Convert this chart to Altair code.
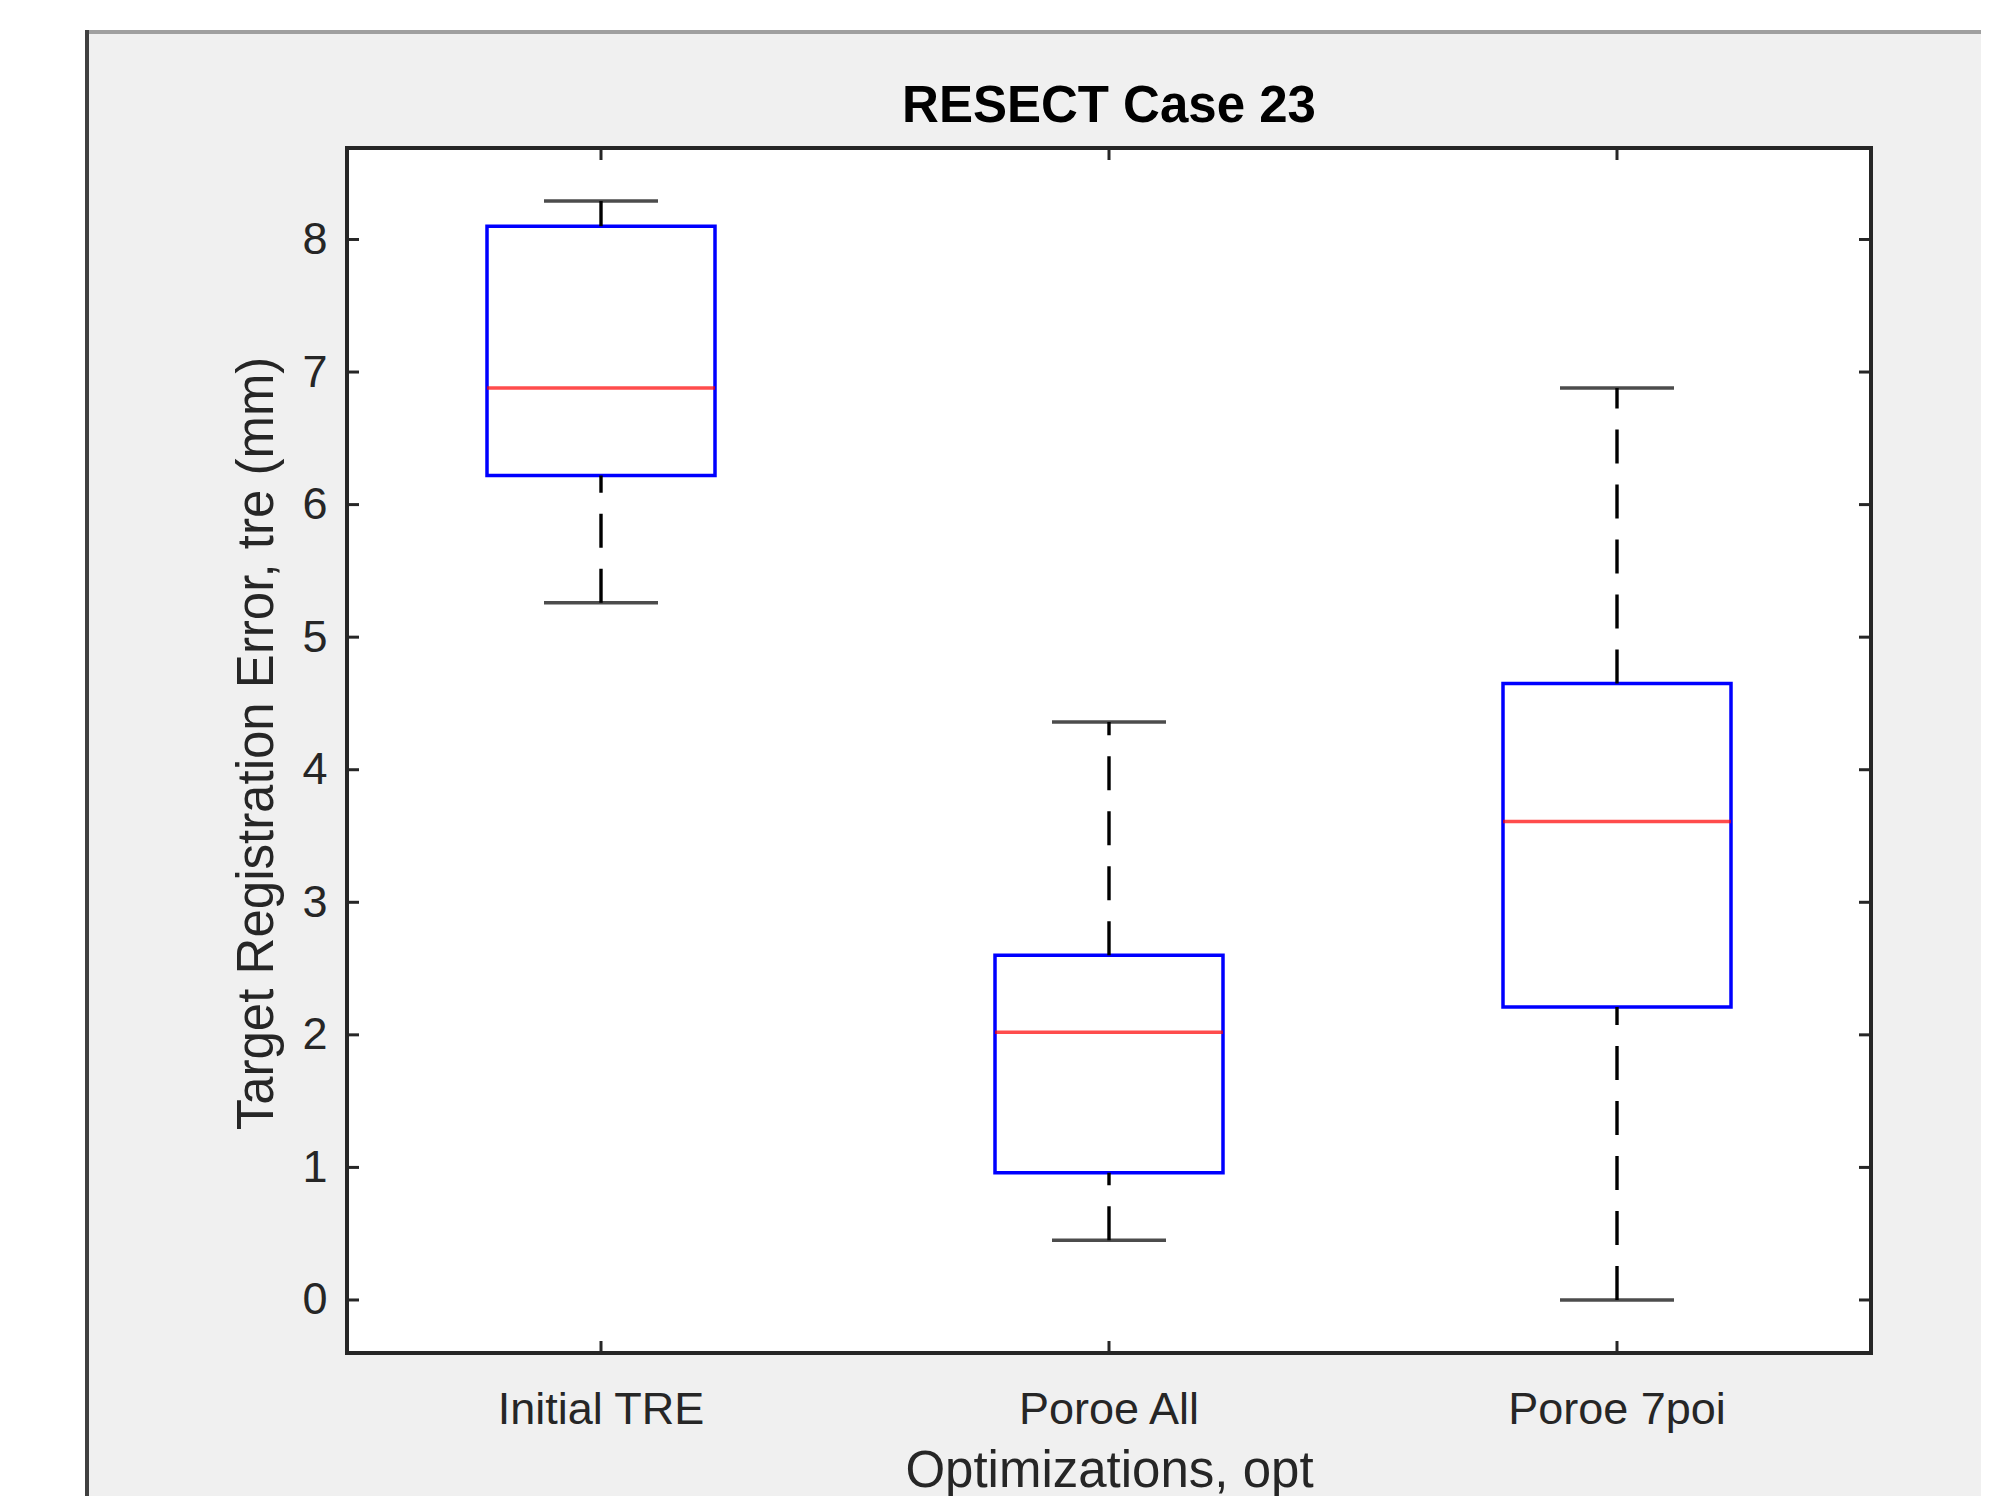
import altair as alt
import pandas as pd

# ---- data ----
CATEGORIES = ["Initial TRE", "Poroe All", "Poroe 7poi"]
WHISKER_LOW = [5.26, 0.45, 0.0]
Q1 = [6.22, 0.96, 2.21]
MEDIAN = [6.88, 2.02, 3.61]
Q3 = [8.10, 2.60, 4.65]
WHISKER_HIGH = [8.29, 4.36, 6.88]
Y_TICKS = [0, 1, 2, 3, 4, 5, 6, 7, 8]
TITLE = "RESECT Case 23"
X_TITLE = "Optimizations, opt"
Y_TITLE = "Target Registration Error, tre (mm)"

# ---- layout / style ----
W, H = 1524, 1205
PAD_L, PAD_T, PAD_R, PAD_B = 339, 140, 110, 143
FONT = "Liberation Sans"
AX = "#262626"
TICK_LEN = 12
LW = 3.4

df = pd.DataFrame({"opt": CATEGORIES, "lo": WHISKER_LOW, "q1": Q1,
                   "med": MEDIAN, "q3": Q3, "hi": WHISKER_HIGH})
ticks_df = pd.DataFrame({"v": Y_TICKS})
cats_df = pd.DataFrame({"opt": CATEGORIES})
one = pd.DataFrame({"t": [TITLE]})

xs = alt.Scale(domain=CATEGORIES, paddingInner=0, paddingOuter=0)
ys = alt.Scale(domain=[-0.40, 8.69], nice=False, zero=False)

x_axis = alt.Axis(
    title=X_TITLE, labelFont=FONT, labelFontSize=45, labelColor=AX,
    labelPadding=34, labelLimit=600, labelAngle=0, ticks=False, tickSize=0,
    domain=False, grid=False, titleFont=FONT, titleFontSize=51,
    titleFontWeight="normal", titleColor=AX, titleX=W / 2, titleY=133,
    titleBaseline="alphabetic", titleAlign="center")
y_axis = alt.Axis(
    title=Y_TITLE, values=Y_TICKS, format="d", labelFont=FONT,
    labelFontSize=45, labelColor=AX, labelPadding=20, labelFlush=False,
    labelOverlap=False, ticks=False, tickSize=0, domain=False, grid=False,
    titleFont=FONT, titleFontSize=51, titleFontWeight="normal",
    titleColor=AX, titleX=-75, titleY=595, titleAngle=270,
    titleBaseline="alphabetic", titleAlign="center")


def X():
    return alt.X("opt:N", scale=xs, axis=x_axis, sort=CATEGORIES, title=X_TITLE)


def Y(field):
    return alt.Y(field, scale=ys, axis=y_axis, title=Y_TITLE)


# figure chrome (outside plot area)
white_top = alt.Chart(one).mark_rect(color="white").encode(
    x=alt.value(-PAD_L), x2=alt.value(W + PAD_R),
    y=alt.value(-PAD_T), y2=alt.value(-118))
white_left = alt.Chart(one).mark_rect(color="white").encode(
    x=alt.value(-PAD_L), x2=alt.value(-262),
    y=alt.value(-PAD_T), y2=alt.value(H + PAD_B))
top_line = alt.Chart(one).mark_rect(color="#a0a0a0").encode(
    x=alt.value(-262), x2=alt.value(W + PAD_R),
    y=alt.value(-118), y2=alt.value(-114))
left_line = alt.Chart(one).mark_rect(color="#404040").encode(
    x=alt.value(-262), x2=alt.value(-258),
    y=alt.value(-118), y2=alt.value(H + PAD_B))

base = alt.Chart(df)
boxes = base.mark_bar(width=228, fill="white", stroke="#0000ff",
                      strokeWidth=3.5).encode(x=X(), y=Y("q1:Q"), y2="q3:Q")
whisk_lo = base.mark_rule(color="black", strokeWidth=LW, strokeDash=[34, 21]).encode(
    x=X(), y=Y("lo:Q"), y2="q1:Q")
whisk_hi = base.mark_rule(color="black", strokeWidth=LW, strokeDash=[34, 21]).encode(
    x=X(), y=Y("q3:Q"), y2="hi:Q")
cap_lo = base.mark_tick(color="black", size=114, thickness=LW).encode(
    x=X(), y=Y("lo:Q"))
cap_hi = base.mark_tick(color="black", size=114, thickness=LW).encode(
    x=X(), y=Y("hi:Q"))
medians = base.mark_tick(color="#ff0000", size=228, thickness=3.5).encode(
    x=X(), y=Y("med:Q"))

# inward ticks on all four sides
tl = alt.Chart(ticks_df).mark_rule(color=AX, strokeWidth=3).encode(
    y=Y("v:Q"), x=alt.value(0), x2=alt.value(TICK_LEN))
tr = alt.Chart(ticks_df).mark_rule(color=AX, strokeWidth=3).encode(
    y=Y("v:Q"), x=alt.value(W - TICK_LEN), x2=alt.value(W))
tb = alt.Chart(cats_df).mark_rule(color=AX, strokeWidth=3).encode(
    x=X(), y=alt.value(H - TICK_LEN), y2=alt.value(H))
tt = alt.Chart(cats_df).mark_rule(color=AX, strokeWidth=3).encode(
    x=X(), y=alt.value(0), y2=alt.value(TICK_LEN))

title = alt.Chart(one).mark_text(
    font=FONT, fontSize=51, fontWeight="bold", color="black",
    align="center", baseline="alphabetic").encode(
    text="t:N", x=alt.value(W / 2), y=alt.value(-26))

chart = alt.layer(
    white_top, white_left, top_line, left_line,
    boxes, whisk_lo, whisk_hi, cap_lo, cap_hi, medians,
    tl, tr, tb, tt, title
).properties(
    width=W, height=H, background="#f0f0f0",
    autosize=alt.AutoSizeParams(type="none"),
    padding={"left": PAD_L, "top": PAD_T, "right": PAD_R, "bottom": PAD_B},
).configure_view(fill="white", stroke=AX, strokeWidth=4)

chart.save("out.html", embed_options={"renderer": "svg", "actions": False})
